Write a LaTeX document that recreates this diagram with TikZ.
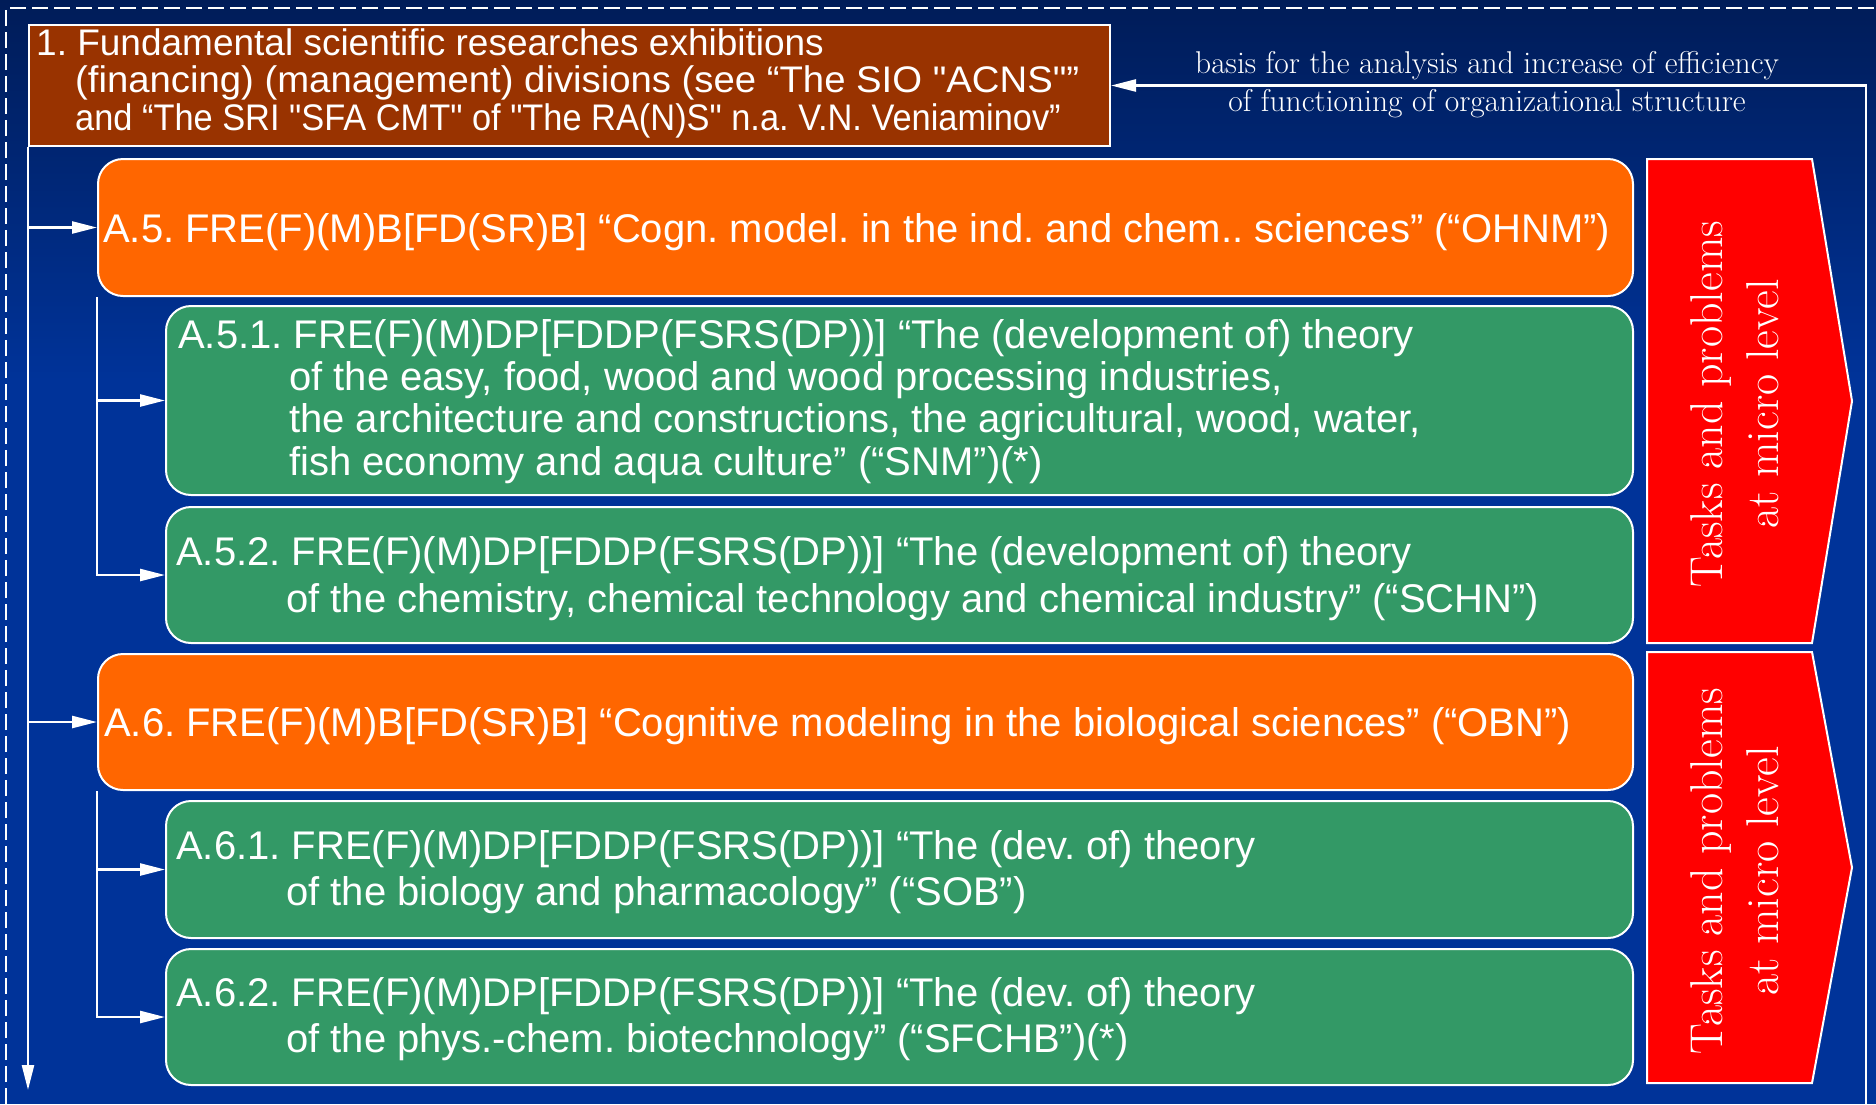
\documentclass[tikz,border=0pt]{standalone}
\usepackage{fontspec}
\newfontfamily\arialf{Liberation Sans}
\usetikzlibrary{arrows.meta}
\definecolor{bgtop}{RGB}{0,28,88}
\definecolor{bgmain}{RGB}{0,51,153}
\definecolor{brownc}{HTML}{993300}
\definecolor{orangec}{HTML}{FF6600}
\definecolor{greenc}{HTML}{339966}
\definecolor{redc}{HTML}{FF0000}
\frenchspacing
\begin{document}
\begin{tikzpicture}[x=1pt,y=-1pt,
  boxbase/.style={draw=white, line width=2pt, inner sep=0pt, anchor=north west},
  titlebox/.style={boxbase, fill=brownc},
  orangebox/.style={boxbase, fill=orangec, rounded corners=25pt},
  greenbox/.style={boxbase, fill=greenc, rounded corners=25pt},
  redarrow/.style={draw=white, line width=2pt, fill=redc, line join=miter},
  boxtext/.style={anchor=base west, inner sep=0pt, align=left, text=white},
  rottext/.style={rotate=90, align=center, inner sep=0pt, text=white, font=\fontsize{46}{56}\selectfont},
  lbl/.style={anchor=base, align=center, inner sep=0pt, text=white, font=\fontsize{31.5}{38}\selectfont},
  conn/.style={draw=white, line width=2.5pt, -{Triangle[length=25pt,width=12pt]}},
  frame/.style={draw=white, line width=2pt, dash pattern=on 16pt off 6pt}
]
\useasboundingbox (0,0) rectangle (1876,1104);
% background
\fill[bgmain] (0,0) rectangle (1876,1104);
\shade[top color=bgtop, bottom color=bgmain] (0,0) rectangle (1876,380);
% dashed frame
\draw[frame] (6,1104) -- (6,8) -- (1876,8);

% boxes
\node[titlebox, minimum width=1081pt, minimum height=121pt] (title) at (28,24) {};
\node[orangebox, minimum width=1535pt, minimum height=137pt] (A5) at (97,158) {};
\node[greenbox, minimum width=1467pt, minimum height=189pt] (A51) at (165,305) {};
\node[greenbox, minimum width=1467pt, minimum height=136pt] (A52) at (165,506) {};
\node[orangebox, minimum width=1535pt, minimum height=136pt] (A6) at (97,653) {};
\node[greenbox, minimum width=1467pt, minimum height=137pt] (A61) at (165,800) {};
\node[greenbox, minimum width=1467pt, minimum height=136pt] (A62) at (165,948) {};

% red pointers
\draw[redarrow] (1647,159) -- (1812,159) -- (1852,401) -- (1812,643) -- (1647,643) -- cycle;
\draw[redarrow] (1647,652) -- (1812,652) -- (1852,867.5) -- (1812,1083) -- (1647,1083) -- cycle;
\node[rottext] (tp1) at (1735,404) {Tasks and problems\\at micro level};
\node[rottext] (tp2) at (1735,871) {Tasks and problems\\at micro level};

% connectors
\coordinate (bottomtip) at (28,1090);
\coordinate (fbfoot) at (1866,1104);
\draw[conn] (title.south west) -- (bottomtip);
\draw[conn] (title.south west |- A5.west) -- (A5.west);
\draw[conn] (title.south west |- A6.west) -- (A6.west);
\draw[conn] (A5.south west) |- (A51.west);
\draw[conn] (A5.south west) |- (A52.west);
\draw[conn] (A6.south west) |- (A61.west);
\draw[conn] (A6.south west) |- (A62.west);
\draw[conn] (fbfoot) |- (title.east);
\node[lbl] (fblabel) at (1487,111) {basis for the analysis and increase of efficiency\\of functioning of organizational structure};

% texts (anchor = baseline of the last line)
\node[boxtext, font=\arialf\fontsize{37}{37.5}\selectfont] (titletext) at (36,130)
 {1. Fundamental scientific researches exhibitions\\
  \hspace*{39pt}\scalebox{1.035}[1]{(financing) (management) divisions (see “The SIO "ACNS"”}\\
  \hspace*{39pt}\scalebox{0.929}[1]{and “The SRI "SFA CMT" of "The RA(N)S" n.a. V.N. Veniaminov”}};
\node[boxtext, font=\arialf\fontsize{40}{46}\selectfont] (A5text) at (103,242)
 {A.5. FRE(F)(M)B[FD(SR)B] “Cogn. model. in the ind. and chem.. sciences” (“OHNM”)};
\node[boxtext, font=\arialf\fontsize{40}{42.3}\selectfont] (A51text) at (178,475)
 {A.5.1. FRE(F)(M)DP[FDDP(FSRS(DP))] “The (development of) theory\\
  \hspace*{111pt}of the easy, food, wood and wood processing industries,\\
  \hspace*{111pt}the architecture and constructions, the agricultural, wood, water,\\
  \hspace*{111pt}fish economy and aqua culture” (“SNM”)(*)};
\node[boxtext, font=\arialf\fontsize{40}{47}\selectfont] (A52text) at (176,612)
 {A.5.2. FRE(F)(M)DP[FDDP(FSRS(DP))] “The (development of) theory\\
  \hspace*{110pt}of the chemistry, chemical technology and chemical industry” (“SCHN”)};
\node[boxtext, font=\arialf\fontsize{40}{46}\selectfont] (A6text) at (104,736)
 {A.6. FRE(F)(M)B[FD(SR)B] “Cognitive modeling in the biological sciences” (“OBN”)};
\node[boxtext, font=\arialf\fontsize{40}{46}\selectfont] (A61text) at (176,905)
 {A.6.1. FRE(F)(M)DP[FDDP(FSRS(DP))] “The (dev. of) theory\\
  \hspace*{110pt}of the biology and pharmacology” (“SOB”)};
\node[boxtext, font=\arialf\fontsize{40}{46}\selectfont] (A62text) at (176,1052)
 {A.6.2. FRE(F)(M)DP[FDDP(FSRS(DP))] “The (dev. of) theory\\
  \hspace*{110pt}of the phys.-chem. biotechnology” (“SFCHB”)(*)};
\end{tikzpicture}
\end{document}
